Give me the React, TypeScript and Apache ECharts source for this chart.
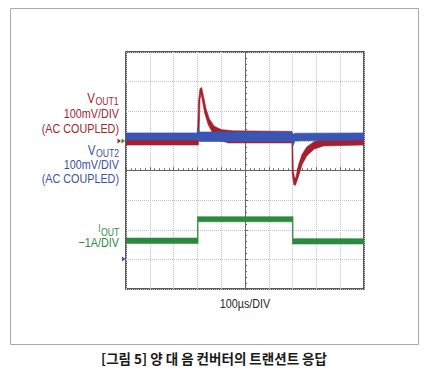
import React, { useEffect, useRef } from "react";
import * as echarts from "echarts";

// Oscilloscope screen: 10 horizontal x 8 vertical divisions.
// Each trace is a noise band given by its upper and lower envelope,
// in divisions measured from the screen's left / bottom edge.
const xDivs = 10;
const yDivs = 8;

const vout1Upper: number[][] = [
  [0, 5.1], [3.0, 5.1], [3.04, 6.3], [3.11, 6.77], [3.18, 6.8], [3.26, 6.5],
  [3.36, 6.1], [3.5, 5.75], [3.7, 5.5], [4.0, 5.38], [4.5, 5.34], [6.97, 5.32],
  [7.0, 5.1], [7.03, 4.0], [7.09, 3.72], [7.14, 3.78], [7.25, 4.2], [7.4, 4.55],
  [7.6, 4.8], [7.9, 4.97], [8.3, 5.07], [10, 5.1],
];
const vout1Lower: number[][] = [
  [0, 4.86], [3.04, 4.86], [3.07, 5.2], [3.11, 6.4], [3.15, 6.6], [3.2, 6.4],
  [3.3, 5.95], [3.45, 5.55], [3.65, 5.25], [3.9, 5.03], [4.3, 4.93], [6.97, 4.93],
  [6.98, 3.9], [7.05, 3.52], [7.12, 3.5], [7.25, 3.8], [7.4, 4.2], [7.6, 4.5],
  [7.9, 4.72], [8.3, 4.83], [10, 4.86],
];

const vout2Upper: number[][] = [
  [0, 5.27], [2.99, 5.27], [3.0, 5.45], [3.05, 5.45], [3.08, 5.3], [6.98, 5.3],
  [7.01, 5.22], [7.1, 5.26], [10, 5.27],
];
const vout2Lower: number[][] = [
  [0, 5.03], [3.0, 5.03], [3.03, 5.08], [3.08, 4.98], [6.98, 4.98], [7.0, 4.85],
  [7.03, 4.85], [7.1, 5.0], [10, 5.03],
];

const ioutUpper: number[][] = [
  [0, 1.72], [3.0, 1.72], [3.0, 2.44], [7.02, 2.44], [7.02, 1.7], [10, 1.7],
];
const ioutLower: number[][] = [
  [0, 1.54], [3.03, 1.54], [3.03, 2.27], [6.99, 2.27], [6.99, 1.52], [10, 1.52],
];

const traces = [
  { name: "VOUT1", upper: vout1Upper, lower: vout1Lower, color: "#a5202d" },
  { name: "VOUT2", upper: vout2Upper, lower: vout2Lower, color: "#3a55b4" },
  { name: "IOUT", upper: ioutUpper, lower: ioutLower, color: "#2c8a3e" },
];

const RED = "#a3262f";
const BLUE = "#3d50a3";
const GREEN = "#2f8a3f";
const SANS = "'Liberation Sans', Arial, sans-serif";
const NARROW_SCALE = 0.83;

const caption = "[그림 5] 양 대 음 컨버터의 트랜션트 응답";
const timeLabel = "100µs/DIV";

function txt(
  text: string, x: number, y: number, fill: string, size = 13, align = "right",
  scaleX = NARROW_SCALE, family = SANS, weight: any = "normal",
) {
  return {
    type: "text",
    silent: true,
    x, y, scaleX, scaleY: 1,
    style: {
      text, x: 0, y: 0, fill,
      fontSize: size, fontFamily: family, fontWeight: weight,
      align, textAlign: align, verticalAlign: "middle", textVerticalAlign: "middle",
    },
  };
}

export default function App() {
  const ref = useRef<HTMLDivElement>(null);
  useEffect(() => {
    if (!ref.current) return;
    const chart = echarts.init(ref.current, undefined, { renderer: "svg" });
    const hx = xDivs / 2;
    const hy = yDivs / 2;
    const tickColor = "#666";
    const baseAxis = (min: number, max: number) => ({
      type: "value",
      min, max, interval: 1,
      axisLabel: { show: false },
      minorSplitLine: { show: false },
    });
    const option: any = {
      animation: false,
      backgroundColor: "#ffffff",
      grid: {
        left: 126, top: 52, width: 238, height: 237,
        show: true, borderColor: "#262626", borderWidth: 1.5, backgroundColor: "#fff",
      },
      xAxis: [
        {
          ...baseAxis(-hx, hx),
          axisLine: { show: true, onZero: true, onZeroAxisIndex: 0, lineStyle: { color: tickColor, width: 1 } },
          axisTick: { show: true, inside: true, length: 3, lineStyle: { color: tickColor } },
          minorTick: { show: true, splitNumber: 5, length: 2, lineStyle: { color: tickColor } },
          splitLine: { show: true, lineStyle: { type: "dotted", color: "#c2c2c2", width: 1 } },
        },
        {
          ...baseAxis(-hx, hx),
          position: "top",
          axisLine: { show: false, onZero: true, onZeroAxisIndex: 0 },
          axisTick: { show: true, inside: false, length: 3, lineStyle: { color: tickColor } },
          minorTick: { show: true, splitNumber: 5, length: 2, lineStyle: { color: tickColor } },
          splitLine: { show: false },
        },
      ],
      yAxis: [
        {
          ...baseAxis(-hy, hy),
          axisLine: { show: true, onZero: true, onZeroAxisIndex: 0, lineStyle: { color: tickColor, width: 1 } },
          axisTick: { show: true, inside: true, length: 3, lineStyle: { color: tickColor } },
          minorTick: { show: true, splitNumber: 5, length: 2, lineStyle: { color: tickColor } },
          splitLine: { show: true, lineStyle: { type: "dotted", color: "#c2c2c2", width: 1 } },
        },
        {
          ...baseAxis(-hy, hy),
          position: "right",
          axisLine: { show: false, onZero: true, onZeroAxisIndex: 0 },
          axisTick: { show: true, inside: false, length: 3, lineStyle: { color: tickColor } },
          minorTick: { show: true, splitNumber: 5, length: 2, lineStyle: { color: tickColor } },
          splitLine: { show: false },
        },
      ],
      series: traces.map((t) => ({
        type: "custom",
        name: t.name,
        xAxisIndex: 0,
        yAxisIndex: 0,
        clip: true,
        silent: true,
        data: [[0, 0]],
        renderItem: (_params: any, api: any) => {
          const pts = t.upper
            .concat(t.lower.slice().reverse())
            .map((p) => api.coord([p[0] - hx, p[1] - hy]));
          return {
            type: "polygon",
            shape: { points: pts },
            style: { fill: t.color, stroke: t.color, lineWidth: 0.6 },
          };
        },
      })),
      graphic: [
        {
          type: "rect", silent: true,
          shape: { x: 10.5, y: 8.5, width: 408, height: 336 },
          style: { fill: "none", stroke: "#a9a9a9", lineWidth: 1 },
        },
        // channel markers
        { type: "polygon", silent: true, shape: { points: [[117.5, 138.5], [121, 141], [117.5, 143.5]] }, style: { fill: RED } },
        { type: "polygon", silent: true, shape: { points: [[121.5, 138.5], [125, 141], [121.5, 143.5]] }, style: { fill: GREEN } },
        { type: "polygon", silent: true, shape: { points: [[122, 256.5], [125.5, 259], [122, 261.5]] }, style: { fill: BLUE } },
        // VOUT1
        txt("V", 95, 98.5, RED, 14, "right"),
        txt("OUT1", 95.5, 101.5, RED, 10.5, "left"),
        txt("100mV/DIV", 119, 114, RED),
        txt("(AC COUPLED)", 119, 128.5, RED),
        // VOUT2
        txt("V", 95.5, 150.5, BLUE, 14, "right"),
        txt("OUT2", 96, 153.5, BLUE, 10.5, "left"),
        txt("100mV/DIV", 119, 164.7, BLUE),
        txt("(AC COUPLED)", 119, 179, BLUE),
        // IOUT
        txt("I", 100.5, 229, GREEN, 10, "right"),
        txt("OUT", 101, 232.5, GREEN, 10.5, "left"),
        txt("−1A/DIV", 119, 243, GREEN),
        // time base
        txt(timeLabel, 245, 303.5, "#2a2a2a", 13, "center"),
        // caption
        txt(caption, 214, 358, "#1a1a1a", 13.5, "center", 1, "'Noto Sans CJK KR', 'Noto Sans', sans-serif", "bold"),
      ],
    };
    chart.setOption(option);
    return () => chart.dispose();
  }, []);
  return (
    <div
      ref={ref}
      style={{ position: "fixed", left: 0, top: 0, width: 430, height: 376, background: "#fff" }}
    />
  );
}
